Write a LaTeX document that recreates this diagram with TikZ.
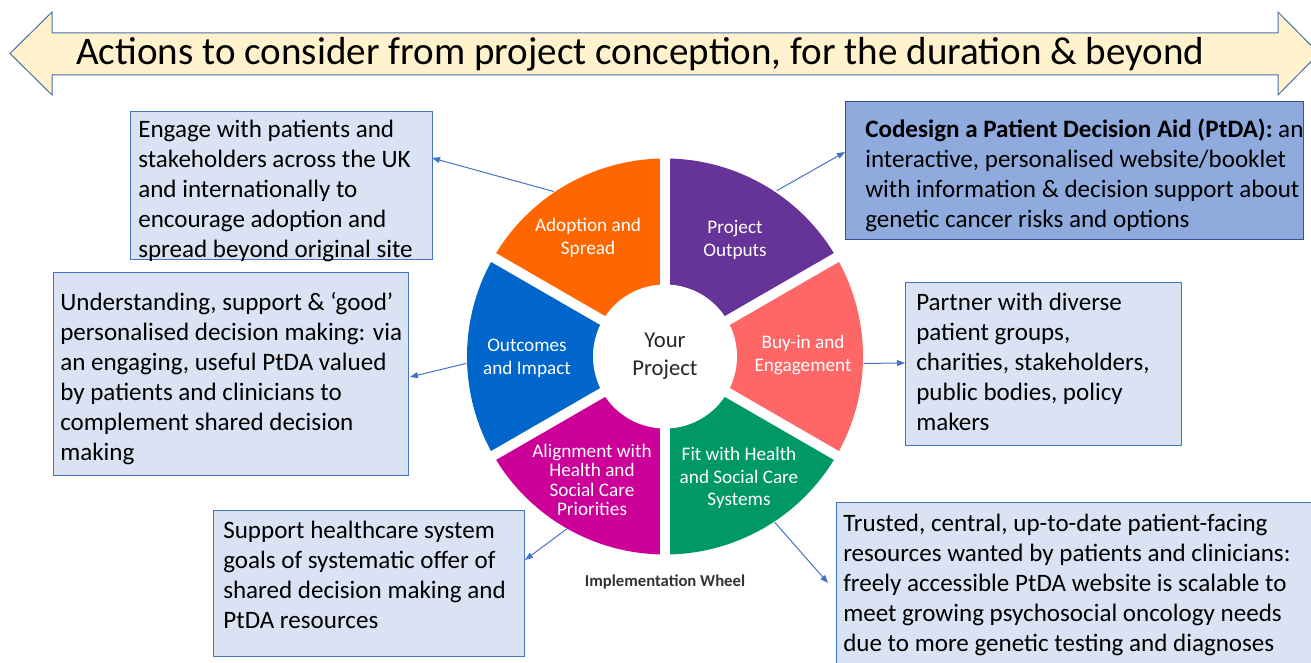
\documentclass[tikz,border=0pt]{standalone}
\usepackage{fontspec}
\setmainfont{Carlito}
\usetikzlibrary{arrows.meta}

\definecolor{bannerFill}{HTML}{FFF2CC}
\definecolor{bannerLine}{HTML}{4A6FA8}
\definecolor{boxFill}{HTML}{DAE3F3}
\definecolor{boxLine}{HTML}{4472C4}
\definecolor{keyFill}{HTML}{8FAADC}
\definecolor{keyLine}{HTML}{2F5597}
\definecolor{linkBlue}{HTML}{4472C4}
\definecolor{adoptOrange}{HTML}{FF6600}
\definecolor{outputPurple}{HTML}{663399}
\definecolor{buyinSalmon}{HTML}{FF6666}
\definecolor{fitGreen}{HTML}{009966}
\definecolor{alignMagenta}{HTML}{CC0099}
\definecolor{outcomeBlue}{HTML}{0066CC}

\newcommand{\boxfont}{\fontsize{18.8}{22.5}\selectfont}
\newcommand{\firstline}{\rule{0pt}{14.25pt}}

\tikzset{
  actionbox/.style={draw=boxLine, fill=boxFill, line width=0.75pt, inner sep=0pt, outer sep=0pt, anchor=north west},
  boxtext/.style={anchor=north west, inner sep=0pt, align=left, font=\boxfont},
  segtext/.style={text=white, align=center, font=\fontsize{14.4}{17}\selectfont},
  link/.style={draw=linkBlue, line width=0.75pt, -{Triangle[length=6pt,width=4.5pt]}},
}

\begin{document}
\begin{tikzpicture}[x=0.75pt, y=0.75pt]
        \useasboundingbox (0,0) rectangle (1311,663);
        \def\outerR{198}
        \def\innerR{72}

        % Banner across the top
        \draw[fill=bannerFill, draw=bannerLine, line width=0.75pt] (10,609.5) -- (52,651) -- (52,630) -- (1278,630) -- (1278,651) -- (1319,609.5) -- (1278,568) -- (1278,588) -- (52,588) -- (52,568) -- cycle;
        \node[anchor=base, font=\fontsize{29.3}{35}\selectfont] (title) at (640.5,598) {Actions to consider from project conception, for the duration \& beyond};

        % Wheel slices, 60 degrees each
        % Purple - Project Outputs, 30 to 90
        \fill[outputPurple] (665,306.5) -- ++(30:\outerR) arc (30:90:\outerR) -- cycle;
        % Orange - Adoption and Spread, 90 to 150
        \fill[adoptOrange] (665,306.5) -- ++(90:\outerR) arc (90:150:\outerR) -- cycle;
        % Blue - Outcomes and Impact, 150 to 210
        \fill[outcomeBlue] (665,306.5) -- ++(150:\outerR) arc (150:210:\outerR) -- cycle;
        % Magenta - Alignment, 210 to 270
        \fill[alignMagenta] (665,306.5) -- ++(210:\outerR) arc (210:270:\outerR) -- cycle;
        % Green - Fit with systems, 270 to 330
        \fill[fitGreen] (665,306.5) -- ++(270:\outerR) arc (270:330:\outerR) -- cycle;
        % Salmon - Buy-in, 330 to 390
        \fill[buyinSalmon] (665,306.5) -- ++(-30:\outerR) arc (-30:30:\outerR) -- cycle;

        % white gaps between slices
        \draw[white, line width=7.5pt] (665,306.5) -- ++(30:210);
        \draw[white, line width=7.5pt] (665,306.5) -- ++(90:210);
        \draw[white, line width=7.5pt] (665,306.5) -- ++(150:210);
        \draw[white, line width=7.5pt] (665,306.5) -- ++(210:210);
        \draw[white, line width=7.5pt] (665,306.5) -- ++(270:210);
        \draw[white, line width=7.5pt] (665,306.5) -- ++(330:210);

        % Hub and slice labels
        \node[circle, fill=white, minimum size=108pt, inner sep=0pt, align=center, font=\fontsize{17}{21}\selectfont, text=black!85] (hub) at (665,306.5) {Your\\Project};
        \node[segtext] (adopt) at (588,425) {Adoption and\\Spread};
        \node[segtext] (outputs) at (735,423) {Project\\Outputs};
        \node[segtext] (buyin) at (803,308) {Buy-in and\\Engagement};
        \node[segtext] (fit) at (739,185) {Fit with Health\\and Social Care\\Systems};
        \node[segtext, font=\fontsize{14.4}{14.6}\selectfont] (align) at (592,183) {Alignment with\\Health and\\Social Care\\Priorities};
        \node[segtext] (outcomes) at (527,305) {Outcomes\\and Impact};
        \node[font=\bfseries\fontsize{12.5}{14}\selectfont, text=black!80] (caption) at (665,81) {Implementation Wheel};

        % points on the rim where the links start
        \path (hub.center) ++(124:199) coordinate (rimAdopt);
        \path (hub.center) ++(56:200) coordinate (rimOutputs);
        \path (hub.center) ++(-2:199) coordinate (rimBuyin);
        \path (hub.center) ++(-56.5:199) coordinate (rimFit);
        \path (hub.center) ++(-119.6:198) coordinate (rimAlign);
        \path (hub.center) ++(182:199) coordinate (rimOutcomes);

        % Action boxes
        \node[actionbox, minimum width=226.5pt, minimum height=111pt] (engageBox) at (130,551) {};
        \node[boxtext] (engageText) at (138,545) {\firstline Engage with patients and\\stakeholders across the UK\\and internationally to\\encourage adoption and\\spread beyond original site};

        \node[actionbox, draw=keyLine, fill=keyFill, minimum width=343.5pt, minimum height=103.5pt] (codesignBox) at (845,561) {};
        \node[boxtext] (codesignText) at (865,545) {\firstline\textbf{Codesign a Patient Decision Aid (PtDA):} an\\interactive, personalised website/booklet\\with information \& decision support about\\genetic cancer risks and options};

        \node[actionbox, minimum width=266.25pt, minimum height=152.25pt] (understandBox) at (53,390) {};
        \node[boxtext] (understandText) at (60,372) {\firstline Understanding, support \& ‘good’\\personalised decision making: via\\an engaging, useful PtDA valued\\by patients and clinicians to\\complement shared decision\\making};

        \node[actionbox, minimum width=207pt, minimum height=122.25pt] (partnerBox) at (905,380) {};
        \node[boxtext] (partnerText) at (916,372) {\firstline Partner with diverse\\patient groups,\\charities, stakeholders,\\public bodies, policy\\makers};

        \node[actionbox, minimum width=233.25pt, minimum height=109.5pt] (supportBox) at (213,152) {};
        \node[boxtext] (supportText) at (223,144) {\firstline Support healthcare system\\goals of systematic offer of\\shared decision making and\\PtDA resources};

        \node[actionbox, minimum width=363pt, minimum height=127.5pt] (trustedBox) at (836,160) {};
        \node[boxtext] (trustedText) at (843,151) {\firstline Trusted, central, up-to-date patient-facing\\resources wanted by patients and clinicians:\\freely accessible PtDA website is scalable to\\meet growing psychosocial oncology needs\\due to more genetic testing and diagnoses};

        % Links from slices to boxes
        \draw[link] (rimAdopt) -- ([shift={(0,28)}]engageBox.east);
        \draw[link] (rimOutputs) -- ([shift={(0,19)}]codesignBox.west);
        \draw[link] (rimBuyin) -- ([shift={(0,1.5)}]partnerBox.west);
        \draw[link] (rimOutcomes) -- ([shift={(2,-2.5)}]understandBox.east);
        \draw[link] (rimAlign) -- ([shift={(1,24)}]supportBox.east);
        \draw[link] (rimFit) -- ([shift={(-8,5)}]trustedBox.west);
    \end{tikzpicture}
\end{document}
